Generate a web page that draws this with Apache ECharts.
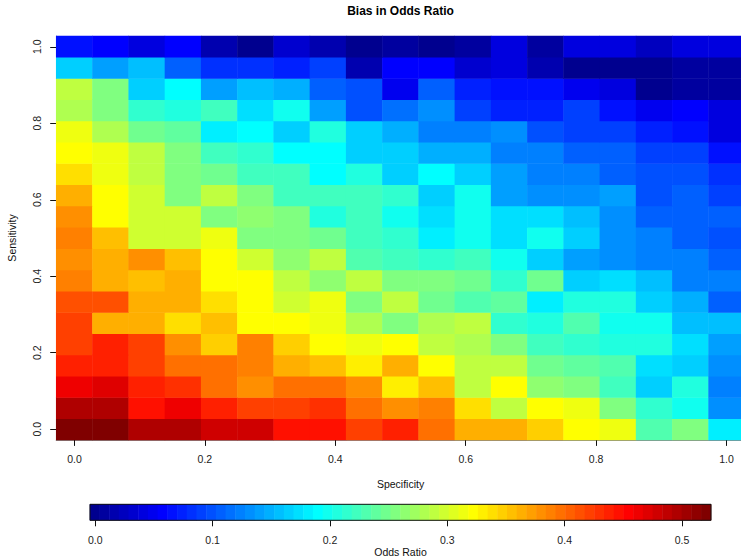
<!DOCTYPE html>
<html><head><meta charset="utf-8">
<script src="https://cdn.jsdelivr.net/npm/echarts@6/dist/echarts.min.js"></script>
<style>html,body{margin:0;padding:0;background:#fff}#c{width:741px;height:557px}</style>
</head><body><div id="c"></div>
<script>
// ---- data ----
const specificity = [0.000,0.056,0.111,0.167,0.222,0.278,0.333,0.389,0.444,0.500,0.556,0.611,0.667,0.722,0.778,0.833,0.889,0.944,1.000];
const sensitivity = [0.000,0.056,0.111,0.167,0.222,0.278,0.333,0.389,0.444,0.500,0.556,0.611,0.667,0.722,0.778,0.833,0.889,0.944,1.000];
const xTickValues = [0.0,0.2,0.4,0.6,0.8,1.0];
const yTickValues = [0.0,0.2,0.4,0.6,0.8,1.0];
const colorbarTicks = [0.0,0.1,0.2,0.3,0.4,0.5];
const zMin = -0.0045, zMax = 0.5247;
const nColors = 64;

// bias in odds ratio, one array per sensitivity level (values along specificity)
const biasSens00 = [0.524,0.517,0.492,0.492,0.483,0.483,0.446,0.446,0.420,0.442,0.400,0.360,0.360,0.344,0.318,0.310,0.230,0.260,0.178];
const biasSens01 = [0.492,0.492,0.446,0.459,0.442,0.420,0.420,0.426,0.400,0.380,0.388,0.336,0.293,0.326,0.310,0.260,0.211,0.194,0.128];
const biasSens02 = [0.459,0.470,0.442,0.426,0.400,0.376,0.400,0.400,0.376,0.332,0.355,0.293,0.318,0.266,0.254,0.219,0.161,0.206,0.120];
const biasSens03 = [0.442,0.434,0.420,0.400,0.400,0.392,0.364,0.355,0.332,0.360,0.318,0.293,0.293,0.244,0.236,0.230,0.176,0.161,0.128];
const biasSens04 = [0.424,0.442,0.420,0.384,0.344,0.388,0.344,0.326,0.310,0.318,0.293,0.277,0.254,0.227,0.211,0.206,0.206,0.176,0.140];
const biasSens05 = [0.424,0.364,0.364,0.336,0.355,0.326,0.318,0.310,0.277,0.260,0.277,0.285,0.213,0.206,0.230,0.194,0.194,0.155,0.155];
const biasSens06 = [0.409,0.409,0.364,0.364,0.336,0.318,0.300,0.310,0.254,0.293,0.244,0.230,0.236,0.183,0.205,0.205,0.168,0.150,0.111];
const biasSens07 = [0.388,0.364,0.355,0.364,0.318,0.318,0.293,0.266,0.285,0.260,0.260,0.244,0.211,0.244,0.168,0.176,0.155,0.120,0.120];
const biasSens08 = [0.384,0.364,0.376,0.355,0.326,0.300,0.266,0.293,0.230,0.219,0.211,0.222,0.194,0.168,0.140,0.132,0.120,0.120,0.111];
const biasSens09 = [0.385,0.355,0.300,0.300,0.310,0.260,0.260,0.244,0.227,0.212,0.183,0.194,0.176,0.194,0.168,0.132,0.120,0.103,0.099];
const biasSens10 = [0.376,0.326,0.300,0.300,0.254,0.266,0.260,0.205,0.219,0.194,0.176,0.194,0.176,0.176,0.155,0.128,0.103,0.103,0.103];
const biasSens11 = [0.364,0.318,0.300,0.260,0.293,0.260,0.227,0.219,0.219,0.211,0.168,0.194,0.140,0.128,0.128,0.140,0.095,0.103,0.087];
const biasSens12 = [0.338,0.314,0.285,0.254,0.244,0.222,0.227,0.187,0.205,0.168,0.187,0.161,0.140,0.120,0.120,0.103,0.095,0.095,0.082];
const biasSens13 = [0.318,0.314,0.285,0.260,0.227,0.213,0.187,0.187,0.168,0.161,0.150,0.150,0.120,0.120,0.103,0.111,0.087,0.087,0.062];
const biasSens14 = [0.310,0.277,0.244,0.236,0.178,0.186,0.166,0.205,0.161,0.150,0.120,0.120,0.128,0.095,0.087,0.087,0.070,0.062,0.042];
const biasSens15 = [0.281,0.254,0.211,0.206,0.227,0.176,0.194,0.140,0.095,0.119,0.128,0.087,0.070,0.070,0.091,0.062,0.047,0.054,0.045];
const biasSens16 = [0.293,0.252,0.166,0.187,0.140,0.160,0.150,0.103,0.099,0.048,0.103,0.070,0.062,0.062,0.052,0.045,0.002,0.010,0.004];
const biasSens17 = [0.167,0.140,0.160,0.111,0.082,0.082,0.070,0.087,0.016,0.058,0.060,0.032,0.045,0.016,0.000,0.000,0.000,0.004,0.006];
const biasSens18 = [0.062,0.057,0.040,0.054,0.016,0.000,0.032,0.020,0.002,0.006,0.000,0.005,0.040,0.004,0.042,0.043,0.022,0.045,0.042];

const biasRows = [biasSens00,biasSens01,biasSens02,biasSens03,biasSens04,biasSens05,biasSens06,biasSens07,biasSens08,biasSens09,
  biasSens10,biasSens11,biasSens12,biasSens13,biasSens14,biasSens15,biasSens16,biasSens17,biasSens18];

// ---- jet colour map (MATLAB style) ----
function jet(m){
  const n = Math.ceil(m/4); const u = [];
  for (let i=1;i<=n;i++) u.push(i/n);
  for (let i=1;i<n;i++) u.push(1);
  for (let i=n;i>=1;i--) u.push(i/n);
  const g0 = Math.ceil(n/2) - (m%4===1?1:0);
  const J = Array.from({length:m},()=>[0,0,0]);
  u.forEach((v,k)=>{ const g=g0+k+1, r=g+n, b=g-n;
    if(r>=1&&r<=m) J[r-1][0]=v; if(g>=1&&g<=m) J[g-1][1]=v; if(b>=1&&b<=m) J[b-1][2]=v; });
  return J.map(c=>'rgb('+c.map(v=>Math.round(v*255)).join(',')+')');
}
const colors = jet(nColors);
const step = (zMax - zMin)/nColors;
const pieces = colors.map((c,i)=> i===nColors-1
  ? {gte: zMin+i*step, lte: zMax+1e-9, color:c}
  : {gte: zMin+i*step, lt: zMin+(i+1)*step, color:c});

const heatData = [];
biasRows.forEach((row,yi)=>row.forEach((v,xi)=>heatData.push([xi,yi,v])));
const barData = colors.map((c,i)=>[i,0,zMin+(i+0.5)*step]);

const dx = (specificity[1]-specificity[0])/2;
const dy = (sensitivity[1]-sensitivity[0])/2;
const FONT = 'Liberation Sans, Arial, Helvetica, sans-serif';
const fmt = v => v.toFixed(1);

const chart = echarts.init(document.getElementById('c'), null, {renderer:'svg'});
chart.setOption({
  animation:false,
  backgroundColor:'#fff',
  textStyle:{fontFamily:FONT},
  graphic:[{type:'text', x:400.5, y:11, style:{text:'Bias in Odds Ratio', align:'center', verticalAlign:'middle',
    font:'bold 12px '+FONT, fill:'#000'}}],
  grid:[
    {left:56.2, top:36.1, width:688.6, height:403.8, outerBoundsMode:'none', containLabel:false},
    {left:90, top:504.3, width:621, height:16, outerBoundsMode:'none', containLabel:false,
     show:true, borderColor:'#111', borderWidth:1, backgroundColor:'transparent', z:10}
  ],
  xAxis:[
    {gridIndex:0, type:'category', data:specificity.map(String), show:false, position:'top'},
    {gridIndex:0, type:'value', min:specificity[0]-dx, max:specificity[specificity.length-1]+dx, position:'bottom',
     name:'Specificity', nameLocation:'middle', nameGap:39,
     nameTextStyle:{fontSize:10.5, color:'#111', fontFamily:FONT},
     axisLine:{show:true, lineStyle:{color:'#888', width:1}},
     axisTick:{show:true, length:6, customValues:xTickValues, lineStyle:{color:'#111'}},
     axisLabel:{show:true, customValues:xTickValues, formatter:fmt, margin:14, fontSize:10.5, color:'#222', fontFamily:FONT},
     splitLine:{show:false}},
    {gridIndex:1, type:'category', data:colors.map((c,i)=>String(i)), show:false},
    {gridIndex:1, type:'value', min:zMin, max:zMax, position:'bottom',
     name:'Odds Ratio', nameLocation:'middle', nameGap:25,
     nameTextStyle:{fontSize:10.5, color:'#111', fontFamily:FONT},
     axisLine:{show:false},
     axisTick:{show:true, length:6, customValues:colorbarTicks, lineStyle:{color:'#111'}},
     axisLabel:{show:true, customValues:colorbarTicks, formatter:fmt, margin:14.5, fontSize:10.5, color:'#222', fontFamily:FONT},
     splitLine:{show:false}}
  ],
  yAxis:[
    {gridIndex:0, type:'category', data:sensitivity.map(String), show:false, position:'right'},
    {gridIndex:0, type:'value', min:sensitivity[0]-dy, max:sensitivity[sensitivity.length-1]+dy, position:'left',
     name:'Sensitivity', nameLocation:'middle', nameGap:39, nameRotate:90,
     nameTextStyle:{fontSize:10.5, color:'#111', fontFamily:FONT},
     axisLine:{show:true, lineStyle:{color:'#888', width:1}},
     axisTick:{show:true, length:6, customValues:yTickValues, lineStyle:{color:'#111'}},
     axisLabel:{show:true, customValues:yTickValues, formatter:fmt, margin:14, rotate:90, fontSize:10.5, color:'#222', fontFamily:FONT},
     splitLine:{show:false}},
    {gridIndex:1, type:'category', data:['bar'], show:false}
  ],
  visualMap:{type:'piecewise', show:false, dimension:2, seriesIndex:[0,1], pieces:pieces, outOfRange:{color:'#800000'}},
  series:[
    {type:'heatmap', xAxisIndex:0, yAxisIndex:0, data:heatData, progressive:0, emphasis:{disabled:true}},
    {type:'heatmap', xAxisIndex:2, yAxisIndex:2, data:barData, progressive:0, emphasis:{disabled:true}}
  ]
});
</script></body></html>
